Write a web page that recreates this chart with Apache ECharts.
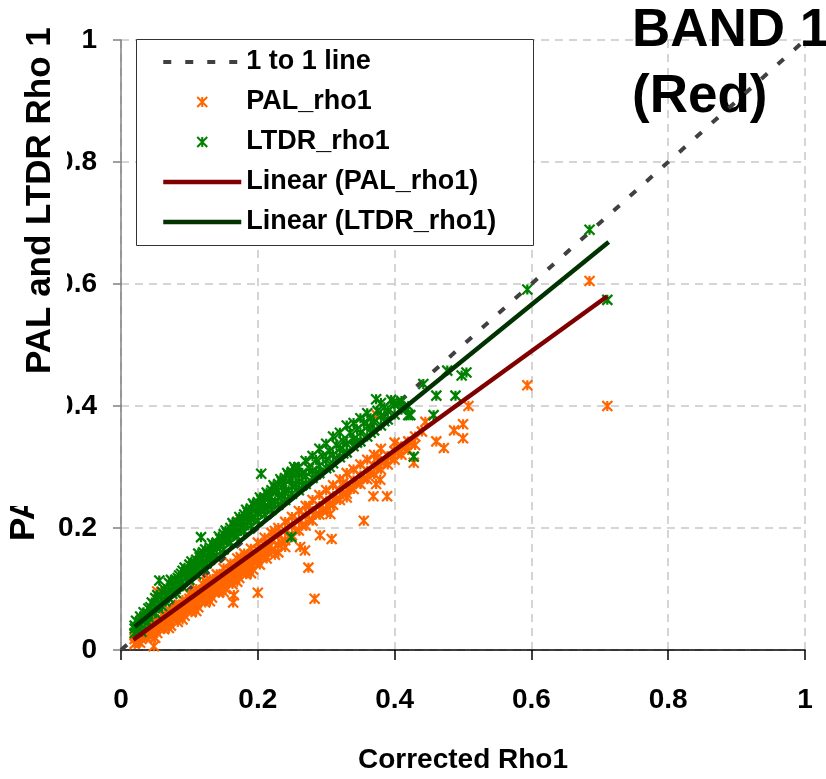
<!DOCTYPE html>
<html>
<head>
<meta charset="utf-8">
<script src="https://cdn.jsdelivr.net/npm/echarts@6/dist/echarts.min.js"></script>
<style>
html,body{margin:0;padding:0;background:#fff;}
#chart{width:826px;height:779px;}
</style>
</head>
<body>
<div id="chart"></div>
<script>
// ---- data ----
var xTicks = [0, 0.2, 0.4, 0.6, 0.8, 1];
var yTicks = [0, 0.2, 0.4, 0.6, 0.8, 1];
var seriesNames = ['1 to 1 line', 'PAL_rho1', 'LTDR_rho1', 'Linear (PAL_rho1)', 'Linear (LTDR_rho1)'];
var oneToOne = [[0, 0], [1, 1]];
var linearPal = [[0.018, 0.017], [0.711, 0.580]];
var linearLtdr = [[0.020, 0.038], [0.713, 0.669]];

var palRho1 = [
[0.020,0.018],[0.020,0.010],[0.020,0.025],[0.025,0.020],[0.025,0.014],[0.030,0.026],[0.030,0.018],[0.030,0.032],
[0.035,0.028],[0.035,0.022],[0.040,0.034],[0.040,0.024],[0.040,0.040],[0.045,0.036],[0.045,0.030],
[0.050,0.042],[0.050,0.032],[0.050,0.048],[0.050,0.020],[0.055,0.046],[0.055,0.036],[0.060,0.050],[0.060,0.040],[0.060,0.058],
[0.065,0.054],[0.065,0.044],[0.070,0.058],[0.070,0.046],[0.070,0.066],[0.070,0.036],[0.075,0.062],[0.075,0.052],
[0.080,0.066],[0.080,0.054],[0.080,0.074],[0.085,0.070],[0.085,0.058],[0.090,0.074],[0.090,0.062],[0.090,0.082],[0.090,0.050],
[0.095,0.078],[0.095,0.066],[0.100,0.084],[0.100,0.070],[0.100,0.092],[0.105,0.086],[0.105,0.074],
[0.110,0.090],[0.110,0.076],[0.110,0.100],[0.110,0.064],[0.115,0.094],[0.115,0.082],[0.120,0.098],[0.120,0.084],[0.120,0.108],
[0.125,0.102],[0.125,0.088],[0.130,0.108],[0.130,0.092],[0.130,0.116],[0.130,0.080],[0.135,0.110],[0.135,0.096],
[0.140,0.116],[0.140,0.100],[0.140,0.124],[0.145,0.118],[0.145,0.104],[0.150,0.124],[0.150,0.108],[0.150,0.134],[0.150,0.095],
[0.155,0.126],[0.155,0.112],[0.160,0.132],[0.160,0.116],[0.160,0.142],[0.165,0.134],[0.165,0.120],
[0.170,0.140],[0.170,0.124],[0.170,0.150],[0.170,0.112],[0.175,0.142],[0.175,0.128],[0.180,0.148],[0.180,0.132],[0.180,0.158],
[0.185,0.150],[0.185,0.136],[0.190,0.156],[0.190,0.140],[0.190,0.166],[0.190,0.126],[0.195,0.158],[0.195,0.144],
[0.200,0.164],[0.200,0.148],[0.200,0.176],[0.205,0.166],[0.205,0.152],[0.210,0.172],[0.210,0.156],[0.210,0.184],
[0.215,0.174],[0.215,0.160],[0.220,0.180],[0.220,0.164],[0.220,0.192],[0.230,0.188],[0.230,0.172],[0.230,0.200],[0.230,0.160],
[0.240,0.196],[0.240,0.180],[0.240,0.210],[0.250,0.204],[0.250,0.188],[0.250,0.218],[0.260,0.212],[0.260,0.196],[0.260,0.228],
[0.270,0.220],[0.270,0.204],[0.270,0.236],[0.280,0.228],[0.280,0.212],[0.280,0.246],[0.290,0.236],[0.290,0.222],[0.290,0.254],
[0.300,0.244],[0.300,0.230],[0.300,0.262],[0.310,0.252],[0.310,0.238],[0.310,0.270],[0.320,0.262],[0.320,0.246],[0.320,0.280],
[0.330,0.270],[0.330,0.256],[0.330,0.290],[0.340,0.278],[0.340,0.264],[0.340,0.296],[0.350,0.286],[0.350,0.272],[0.350,0.304],
[0.360,0.294],[0.360,0.280],[0.360,0.312],[0.370,0.302],[0.370,0.288],[0.370,0.320],[0.380,0.310],[0.380,0.296],[0.380,0.330],
[0.390,0.318],[0.390,0.304],[0.400,0.326],[0.400,0.312],[0.400,0.340],[0.410,0.334],[0.410,0.320],[0.420,0.342],[0.420,0.328],
[0.430,0.350],[0.430,0.336],[0.440,0.358],
[0.022,0.022],[0.028,0.012],[0.033,0.030],[0.038,0.020],[0.043,0.026],[0.048,0.038],[0.053,0.028],[0.058,0.044],[0.063,0.034],
[0.068,0.052],[0.073,0.040],[0.078,0.058],[0.083,0.046],[0.088,0.066],[0.093,0.056],[0.098,0.074],[0.103,0.062],[0.108,0.082],
[0.113,0.070],[0.118,0.090],[0.123,0.078],[0.128,0.098],[0.133,0.086],[0.138,0.108],[0.143,0.094],[0.148,0.114],[0.153,0.100],
[0.158,0.122],[0.163,0.108],[0.168,0.130],[0.173,0.118],[0.178,0.138],[0.183,0.124],[0.188,0.146],[0.193,0.132],[0.198,0.154],
[0.203,0.140],[0.208,0.162],[0.213,0.150],[0.218,0.170],[0.225,0.156],[0.235,0.176],[0.245,0.186],[0.255,0.196],[0.265,0.204],
[0.275,0.214],[0.285,0.222],[0.295,0.230],[0.305,0.240],[0.315,0.248],[0.325,0.256],[0.335,0.266],[0.345,0.274],[0.355,0.282],
[0.365,0.290],[0.375,0.300],[0.385,0.308],[0.395,0.316],[0.405,0.324],[0.415,0.332],[0.425,0.340],
[0.125,0.112],[0.175,0.152],[0.225,0.195],[0.275,0.236],[0.325,0.274],[0.375,0.316],
[0.685,0.605],[0.594,0.434],[0.711,0.400],[0.508,0.400],[0.500,0.370],[0.487,0.360],[0.500,0.347],[0.461,0.342],[0.472,0.331],[0.445,0.374],
[0.283,0.084],[0.200,0.094],[0.274,0.135],[0.308,0.182],[0.291,0.188],[0.355,0.212],[0.165,0.090],[0.164,0.078],
[0.306,0.223],[0.301,0.228],[0.330,0.250],[0.369,0.252],[0.389,0.252],[0.373,0.272],[0.379,0.279],[0.428,0.307],
[0.048,0.006],[0.053,0.096],[0.374,0.385],[0.269,0.163],[0.262,0.169],[0.240,0.169],[0.174,0.209]
];

var ltdrRho1 = [
[0.020,0.035],[0.020,0.028],[0.020,0.040],[0.025,0.045],[0.025,0.032],[0.030,0.050],[0.030,0.041],[0.030,0.030],
[0.035,0.055],[0.035,0.048],[0.040,0.068],[0.040,0.054],[0.040,0.045],[0.045,0.062],[0.045,0.078],
[0.050,0.070],[0.050,0.060],[0.050,0.085],[0.055,0.075],[0.055,0.068],[0.060,0.082],[0.060,0.095],[0.060,0.072],
[0.065,0.088],[0.065,0.079],[0.070,0.098],[0.070,0.085],[0.070,0.110],[0.075,0.092],[0.075,0.104],
[0.080,0.100],[0.080,0.115],[0.080,0.094],[0.085,0.106],[0.085,0.122],[0.090,0.112],[0.090,0.104],[0.090,0.130],
[0.095,0.118],[0.095,0.128],[0.100,0.125],[0.100,0.115],[0.100,0.140],[0.105,0.128],[0.105,0.138],
[0.110,0.135],[0.110,0.124],[0.110,0.148],[0.115,0.140],[0.115,0.152],[0.120,0.145],[0.120,0.135],[0.120,0.160],
[0.125,0.150],[0.125,0.142],[0.130,0.158],[0.130,0.148],[0.130,0.168],[0.135,0.160],[0.135,0.172],
[0.140,0.168],[0.140,0.155],[0.140,0.176],[0.145,0.170],[0.145,0.182],[0.150,0.178],[0.150,0.165],[0.150,0.190],
[0.155,0.180],[0.155,0.192],[0.160,0.188],[0.160,0.176],[0.160,0.200],[0.165,0.190],[0.165,0.204],
[0.170,0.196],[0.170,0.186],[0.170,0.210],[0.175,0.200],[0.175,0.214],[0.180,0.205],[0.180,0.195],[0.180,0.222],
[0.185,0.210],[0.185,0.226],[0.190,0.215],[0.190,0.204],[0.190,0.232],[0.195,0.218],[0.195,0.236],
[0.200,0.224],[0.200,0.212],[0.200,0.242],[0.205,0.228],[0.205,0.246],[0.210,0.232],[0.210,0.222],[0.210,0.250],
[0.215,0.236],[0.215,0.254],[0.220,0.240],[0.220,0.230],[0.220,0.262],[0.225,0.244],[0.225,0.266],
[0.230,0.250],[0.230,0.238],[0.230,0.272],[0.235,0.254],[0.235,0.276],[0.240,0.258],[0.240,0.246],[0.240,0.282],
[0.245,0.262],[0.245,0.286],[0.250,0.268],[0.250,0.256],[0.250,0.292],[0.255,0.272],[0.255,0.296],
[0.260,0.276],[0.260,0.262],[0.260,0.300],[0.270,0.285],[0.270,0.272],[0.270,0.310],[0.280,0.294],[0.280,0.282],[0.280,0.318],
[0.290,0.302],[0.290,0.290],[0.290,0.330],[0.300,0.312],[0.300,0.298],[0.300,0.338],[0.310,0.320],[0.310,0.306],[0.310,0.350],
[0.320,0.330],[0.320,0.316],[0.320,0.356],[0.330,0.338],[0.330,0.324],[0.330,0.368],[0.340,0.346],[0.340,0.334],[0.340,0.372],
[0.350,0.356],[0.350,0.342],[0.350,0.380],[0.360,0.366],[0.360,0.350],[0.360,0.388],[0.370,0.374],[0.370,0.360],
[0.380,0.384],[0.380,0.368],[0.380,0.405],[0.390,0.392],[0.390,0.378],[0.400,0.402],[0.400,0.386],[0.410,0.408],[0.410,0.394],
[0.420,0.400],[0.420,0.385],
[0.265,0.290],[0.275,0.298],[0.285,0.312],[0.295,0.318],[0.305,0.326],[0.315,0.336],[0.325,0.342],[0.335,0.356],[0.345,0.362],
[0.355,0.372],[0.365,0.380],[0.375,0.392],[0.385,0.398],[0.395,0.410],[0.405,0.404],[0.415,0.398],[0.265,0.270],[0.285,0.288],
[0.305,0.300],[0.325,0.322],[0.345,0.340],[0.365,0.356],[0.385,0.375],
[0.022,0.048],[0.028,0.055],[0.033,0.062],[0.038,0.060],[0.043,0.070],[0.048,0.075],[0.053,0.090],[0.058,0.088],[0.063,0.100],
[0.068,0.092],[0.073,0.115],[0.078,0.108],[0.083,0.118],[0.088,0.125],[0.093,0.135],[0.098,0.132],[0.103,0.145],[0.108,0.142],
[0.113,0.158],[0.118,0.150],[0.123,0.165],[0.128,0.160],[0.133,0.175],[0.138,0.170],[0.143,0.186],[0.148,0.180],[0.153,0.196],
[0.158,0.192],[0.163,0.208],[0.168,0.200],[0.173,0.218],[0.178,0.212],[0.183,0.230],[0.188,0.222],[0.193,0.240],[0.198,0.232],
[0.203,0.250],[0.208,0.240],[0.213,0.258],[0.218,0.252],[0.223,0.270],[0.228,0.260],[0.233,0.280],[0.238,0.270],[0.243,0.290],
[0.248,0.280],[0.253,0.300],[0.258,0.290],
[0.205,0.289],[0.117,0.185],[0.056,0.114],[0.249,0.185],[0.373,0.411],[0.428,0.317],
[0.685,0.689],[0.594,0.591],[0.711,0.574],[0.505,0.455],[0.498,0.450],[0.461,0.417],[0.489,0.417],[0.442,0.436],
[0.477,0.458],[0.423,0.385],[0.457,0.385],[0.398,0.406]
];

var FONT = '"Liberation Sans", Arial, Helvetica, sans-serif';
var starPath = 'path://M0 0L10 10M10 0L0 10M5 0L5 10';

var chart = echarts.init(document.getElementById('chart'), null, {renderer: 'canvas'});
var option = {
  animation: false,
  backgroundColor: '#ffffff',
  grid: {left: 121, right: 21, top: 40, bottom: 122, containLabel: false},
  xAxis: {
    type: 'value', min: xTicks[0], max: xTicks[xTicks.length - 1], interval: 0.2,
    name: 'Corrected Rho1', nameLocation: 'middle', nameGap: 96,
    nameTextStyle: {fontFamily: FONT, fontWeight: 'bold', fontSize: 28, color: '#000'},
    axisLine: {show: true, lineStyle: {color: '#000', width: 1.5}},
    axisTick: {show: true, length: 10, lineStyle: {color: '#000', width: 1.5}},
    axisLabel: {fontFamily: FONT, fontWeight: 'bold', fontSize: 28, color: '#000', margin: 36,
      formatter: function (v) { return String(+v.toFixed(1)); }},
    splitLine: {show: true, lineStyle: {color: '#C8C8C8', width: 1.5, type: [8, 6]}}
  },
  yAxis: {
    type: 'value', min: yTicks[0], max: yTicks[yTicks.length - 1], interval: 0.2,
    axisLine: {show: true, lineStyle: {color: '#808080', width: 1.5}},
    axisTick: {show: true, length: 8, lineStyle: {color: '#808080', width: 1.5}},
    axisLabel: {fontFamily: FONT, fontWeight: 'bold', fontSize: 28, color: '#000', margin: 24,
      formatter: function (v) { return String(+v.toFixed(1)); }},
    splitLine: {show: true, lineStyle: {color: '#C8C8C8', width: 1.5, type: [8, 6]}}
  },
  legend: {
    orient: 'vertical', left: 161, top: 47, padding: 0, z: 20,
    itemWidth: 78, itemHeight: 10, itemGap: 10,
    lineStyle: {width: 'inherit'},
    textStyle: {fontFamily: FONT, fontWeight: 'bold', fontSize: 27, color: '#000', lineHeight: 30},
    data: seriesNames
  },
  graphic: [
    {type: 'rect', z: 15, shape: {x: 136.5, y: 39.5, width: 397, height: 206},
      style: {fill: '#ffffff', stroke: '#333333', lineWidth: 1}},
    {type: 'text', z: 99, x: 24, y: 541, rotation: Math.PI / 2,
      style: {text: 'PA', font: 'bold 35px ' + FONT, fill: '#000', textAlign: 'left', textVerticalAlign: 'middle', verticalAlign: 'middle'}},
    {type: 'rect', z: 100, shape: {x: 0, y: 0, width: 67, height: 506}, style: {fill: '#ffffff'}},
    {type: 'text', z: 101, x: 40, y: 374, rotation: Math.PI / 2,
      style: {text: 'PAL and LTDR Rho 1', font: 'bold 35px ' + FONT, fill: '#000', textAlign: 'left', textVerticalAlign: 'middle', verticalAlign: 'middle'}},
    {type: 'text', z: 1, x: 632, y: 31,
      style: {text: 'BAND 1', font: 'bold 53px ' + FONT, fill: '#000', textAlign: 'left', textVerticalAlign: 'middle', verticalAlign: 'middle'}},
    {type: 'text', z: 1, x: 632, y: 97,
      style: {text: '(Red)', font: 'bold 53px ' + FONT, fill: '#000', textAlign: 'left', textVerticalAlign: 'middle', verticalAlign: 'middle'}}
  ],
  series: [
    {name: seriesNames[0], type: 'line', data: oneToOne, symbol: 'none', z: 2,
      lineStyle: {color: '#404040', width: 4, type: [8, 14]}, itemStyle: {color: '#404040', opacity: 0}},
    {name: seriesNames[1], type: 'scatter', data: palRho1, symbol: starPath, symbolSize: 10, z: 3,
      itemStyle: {color: '#FF6600', borderColor: '#FF6600', borderWidth: 2.2, opacity: 1}},
    {name: seriesNames[2], type: 'scatter', data: ltdrRho1, symbol: starPath, symbolSize: 10, z: 4,
      itemStyle: {color: '#008000', borderColor: '#008000', borderWidth: 2.2, opacity: 1}},
    {name: seriesNames[3], type: 'line', data: linearPal, symbol: 'none', z: 5,
      lineStyle: {color: '#800000', width: 4.5}, itemStyle: {color: '#800000', opacity: 0}},
    {name: seriesNames[4], type: 'line', data: linearLtdr, symbol: 'none', z: 6,
      lineStyle: {color: '#003300', width: 4.5}, itemStyle: {color: '#003300', opacity: 0}}
  ]
};
chart.setOption(option);
</script>
</body>
</html>
